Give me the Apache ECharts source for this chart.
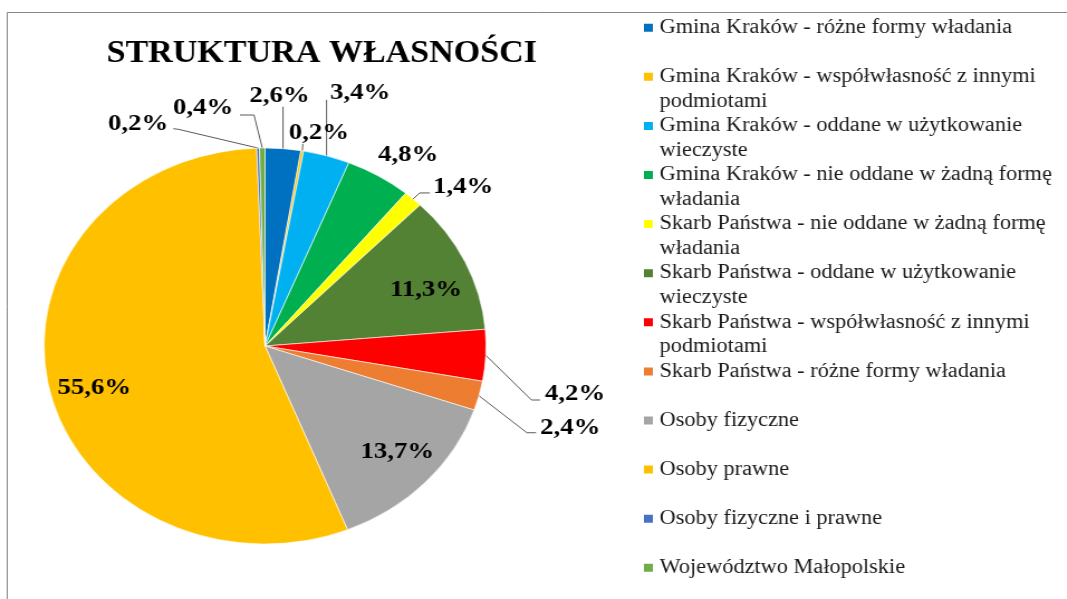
<!DOCTYPE html>
<html>
<head>
<meta charset="utf-8">
<title>Struktura własności</title>
<script src="https://cdn.jsdelivr.net/npm/echarts@6/dist/echarts.min.js"></script>
<style>
html, body { margin: 0; padding: 0; background: #fff; overflow: hidden; }
/* oryginał jest rozciągnięty w poziomie, stąd scaleX */
#chart { width: 956px; height: 599px; transform: scaleX(1.116); transform-origin: 0 0; }
</style>
</head>
<body>
<div id="chart"></div>
<script>
// kategorie (kolejność jak w legendzie, zgodnie z ruchem wskazówek od godz. 12)
var kategorie = [
	'Gmina Kraków - różne formy władania',
	'Gmina Kraków - współwłasność z innymi podmiotami',
	'Gmina Kraków - oddane w użytkowanie wieczyste',
	'Gmina Kraków - nie oddane w żadną formę władania',
	'Skarb Państwa - nie oddane w żadną formę władania',
	'Skarb Państwa - oddane w użytkowanie wieczyste',
	'Skarb Państwa - współwłasność z innymi podmiotami',
	'Skarb Państwa - różne formy władania',
	'Osoby fizyczne',
	'Osoby prawne',
	'Osoby fizyczne i prawne',
	'Województwo Małopolskie'
];

// udział w %
var udzialy = [2.6, 0.2, 3.4, 4.8, 1.4, 11.3, 4.2, 2.4, 13.7, 55.6, 0.2, 0.4];

// łamanie tekstu w legendzie (druga linia)
var legendaLinie = {
	'Gmina Kraków - współwłasność z innymi podmiotami': ['Gmina Kraków - współwłasność z innymi', 'podmiotami'],
	'Gmina Kraków - oddane w użytkowanie wieczyste': ['Gmina Kraków - oddane w użytkowanie', 'wieczyste'],
	'Gmina Kraków - nie oddane w żadną formę władania': ['Gmina Kraków - nie oddane w żadną formę', 'władania'],
	'Skarb Państwa - nie oddane w żadną formę władania': ['Skarb Państwa - nie oddane w żadną formę', 'władania'],
	'Skarb Państwa - oddane w użytkowanie wieczyste': ['Skarb Państwa - oddane w użytkowanie', 'wieczyste'],
	'Skarb Państwa - współwłasność z innymi podmiotami': ['Skarb Państwa - współwłasność z innymi', 'podmiotami']
};

var kolory = ['#0070C0', '#FFC000', '#00B0F0', '#00B050', '#FFFF00', '#548235',
	'#FF0000', '#ED7D31', '#A5A5A5', '#FFC000', '#4472C4', '#70AD47'];

var SRODEK = [237.5, 346];
var PROMIEN = 198;
var LH = 24.5;	//wysokość linii legendy

// etykiety na zewnątrz: odcinki linii i tekst względem punktu na krawędzi wycinka
var ETYKIETY = {
	0: { line: [[0, -42]], text: [-3, -53], align: 'center' },
	1: { line: [[0.5, -7]], text: [15, -18], align: 'center' },
	2: { line: [[0, -56]], text: [3, -63], align: 'left' },
	3: { line: [[0, 0]], text: [-0.5, -21], align: 'left' },
	4: { line: [[6, -6], [15, -6]], text: [18, -12], align: 'left' },
	6: { line: [[41, 44.7], [48.6, 44.7]], text: [53, 38.7], align: 'left' },
	7: { line: [[43, 37], [51.2, 37]], text: [54.8, 32.3], align: 'left' },
	10: { line: [[-71.5, -18.8], [-76, -19.4]], text: [-80.5, -24], align: 'right' },
	11: { line: [[-7.4, -33], [-20, -33]], text: [-26, -40], align: 'right' }
};
// etykiety wewnątrz: przesunięcie od domyślnego położenia
var WEWNATRZ = { 5: [51.9, -12.9], 8: [44.6, 35.9], 9: [-53.3, 20.8] };

function procent(v) {
	return v.toFixed(1).replace('.', ',') + '%';
}

var dane = kategorie.map(function (n, i) {
	var d = { name: n, value: udzialy[i], itemStyle: { color: kolory[i] } };
	if (WEWNATRZ[i]) {
		d.label = { position: 'inside' };
		d.labelLine = { show: false };
	}
	return d;
});

var myChart = echarts.init(document.getElementById('chart'));

var option = {
	animation: false,
	title: {
		text: 'STRUKTURA WŁASNOŚCI',
		left: 90.5,
		top: 33.5,
		textStyle: { fontFamily: 'Liberation Serif', fontWeight: 'bold', fontSize: 30.5, color: '#000' }
	},
	legend: {
		orient: 'vertical',
		left: 575,
		top: 27.7 - 1.5 * LH,
		height: 900,
		padding: 0,
		itemGap: 49.1 - 3 * LH,
		itemWidth: 10,
		itemHeight: 10,
		icon: 'rect',
		data: kategorie.map(function (n) {
			return { name: n, textStyle: { color: '#1a1a1a' } };
		}),
		// pusta linia na górze, żeby pierwszy wiersz stał przy znaczniku
		formatter: function (name) {
			var l = legendaLinie[name] || [name, ' '];
			return ['{t| }', '{t|' + l[0] + '}', '{t|' + l[1] + '}'].join('\n');
		},
		textStyle: {
			fontFamily: 'Liberation Serif',
			fontSize: 20,
			lineHeight: LH,
			color: '#1a1a1a',
			rich: {
				t: { fontFamily: 'Liberation Serif', fontSize: 20, lineHeight: LH, color: '#1a1a1a' }
			}
		}
	},
	graphic: [{
		type: 'rect',
		silent: true,
		shape: { x: 6.5, y: 12.5, width: 1200, height: 1000 },
		style: { fill: 'none', stroke: '#878787', lineWidth: 1 }
	}],
	series: [{
		type: 'pie',
		center: SRODEK,
		radius: PROMIEN,
		startAngle: 90,
		clockwise: true,
		avoidLabelOverlap: false,
		itemStyle: { borderColor: '#fff', borderWidth: 0.6 },
		label: {
			show: true,
			formatter: function (p) { return procent(p.value); },
			fontFamily: 'Liberation Serif',
			fontWeight: 'bold',
			fontSize: 24,
			color: '#000'
		},
		labelLine: {
			show: true,
			length: 20,
			length2: 10,
			lineStyle: { color: '#595959', width: 1 }
		},
		labelLayout: function (p) {
			var r = p.labelRect;
			var w = WEWNATRZ[p.dataIndex];
			if (w) {
				return {
					x: r.x + r.width / 2 + w[0],
					y: r.y + r.height / 2 + w[1],
					align: 'center',
					verticalAlign: 'middle'
				};
			}
			var e = ETYKIETY[p.dataIndex];
			if (!e || !p.labelLinePoints) return {};
			var E = p.labelLinePoints[0];
			var pts = [[E[0], E[1]]].concat(e.line.map(function (q) {
				return [E[0] + q[0], E[1] + q[1]];
			}));
			return {
				x: E[0] + e.text[0],
				y: E[1] + e.text[1],
				align: e.align,
				verticalAlign: 'middle',
				labelLinePoints: pts
			};
		},
		data: dane
	}]
};

myChart.setOption(option);
</script>
</body>
</html>
